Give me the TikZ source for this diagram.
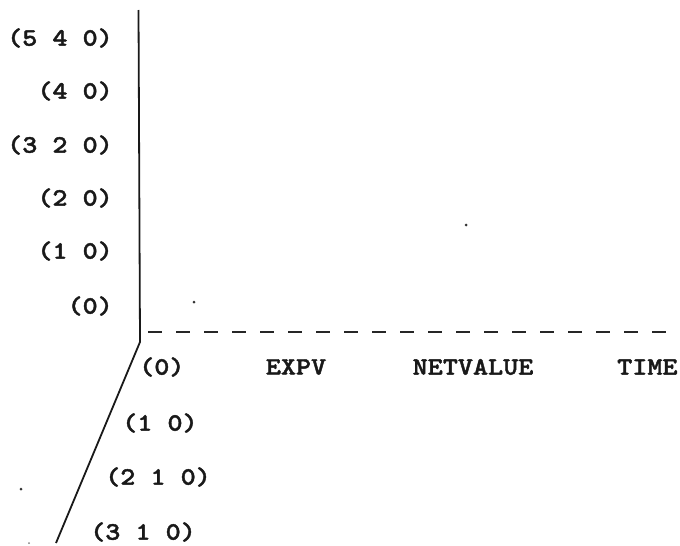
\documentclass[tikz,border=0pt]{standalone}
\usepackage{fontspec}
\newfontfamily\lblfont{lmmonolt10-bold}[Extension=.otf, FakeStretch=1.15, FakeBold=1.6]
\tikzset{
  lbl/.style={font=\lblfont\fontsize{25}{27}\selectfont, inner sep=0pt, text=black!90},
  axis/.style={line width=1.8pt, black!90},
  gridline/.style={line width=2.6pt, black!85, dash pattern=on 14pt off 14pt},
  pt/.style={circle, fill=black!80, inner sep=0pt, minimum size=3pt}
}
\begin{document}
\begin{tikzpicture}[x=1pt,y=-1pt]
  \useasboundingbox (0,0) rectangle (680,546);
  % axes
  \coordinate (top) at (138.5,10);
  \coordinate (origin) at (140,342);
  \coordinate (diagend) at (56,543);
  \coordinate (dstart) at (148,332);
  \coordinate (dend) at (682,332);
  \draw[axis] (top) -- (origin) -- (diagend);
  \draw[gridline] (dstart) -- (dend);
  % vertical axis labels
  \node[lbl, anchor=east] (v5) at (113,38) {(5 4 0)};
  \node[lbl, anchor=east] (v4) at (113,91) {(4 0)};
  \node[lbl, anchor=east] (v3) at (113,145) {(3 2 0)};
  \node[lbl, anchor=east] (v2) at (113,198) {(2 0)};
  \node[lbl, anchor=east] (v1) at (113,251) {(1 0)};
  \node[lbl, anchor=east] (v0) at (113,306) {(0)};
  % depth axis labels
  \node[lbl, anchor=west] (d0) at (139,367) {(0)};
  \node[lbl, anchor=west] (d1) at (122,423) {(1 0)};
  \node[lbl, anchor=west] (d2) at (105,477) {(2 1 0)};
  \node[lbl, anchor=west] (d3) at (90,532) {(3 1 0)};
  % horizontal axis labels
  \node[lbl] (expv) at (296,367) {EXPV};
  \node[lbl] (netv) at (473,367) {NETVALUE};
  \node[lbl, anchor=west] (time) at (617,367) {TIME};
  % data points
  \node[pt] (p1) at (194,302) {};
  \node[pt] (p2) at (466,225) {};
  \node[pt] (p3) at (21,489) {};
  \node[pt, minimum size=2pt, fill=black!50] (p4) at (29,543) {};
\end{tikzpicture}
\end{document}
